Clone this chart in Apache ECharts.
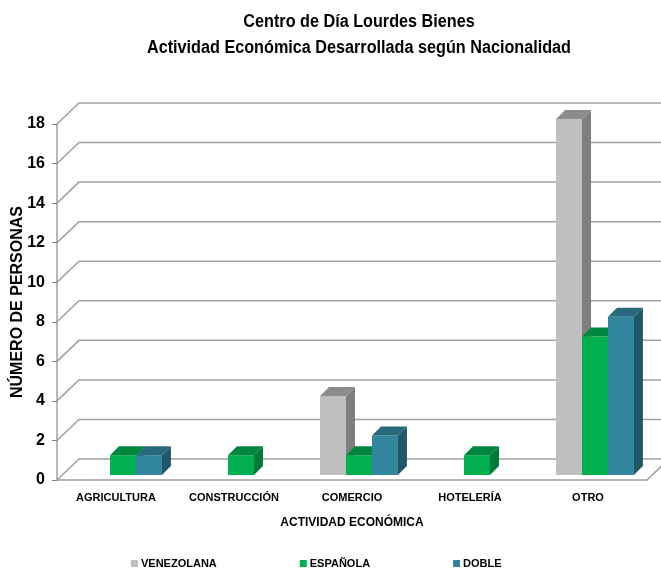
<!DOCTYPE html>
<html>
<head>
<meta charset="utf-8">
<script src="https://cdn.jsdelivr.net/npm/echarts@6/dist/echarts.min.js"></script>
<style>
  html, body { margin: 0; padding: 0; background: #fff; }
  #chart { width: 661px; height: 570px; }
</style>
</head>
<body>
<div id="chart"></div>
<script>
const categories = ['AGRICULTURA', 'CONSTRUCCIÓN', 'COMERCIO', 'HOTELERÍA', 'OTRO']
const venezolana = [0, 0, 4, 0, 18]
const espanola = [1, 1, 1, 1, 7]
const doble = [1, 0, 2, 0, 8]
const yTicks = [0, 2, 4, 6, 8, 10, 12, 14, 16, 18]

const FONT = "'Liberation Sans', Arial, sans-serif"
const wallDx = 22, wallDy = -21
const barDx = 7, barDy = -5, depth = 9

const palette = [
  {name: 'VENEZOLANA', data: venezolana, front: '#bfbfbf', top: '#8c8c8c', side: '#7f7f7f'},
  {name: 'ESPAÑOLA', data: espanola, front: '#00b050', top: '#00873e', side: '#007a38'},
  {name: 'DOBLE', data: doble, front: '#31859c', top: '#276a7c', side: '#215868'}
]

const chart = echarts.init(document.getElementById('chart'))

function barRenderer(idx) {
  return function (params, api) {
    const cat = api.value(0), val = api.value(1)
    if (!val) return null
    const base = api.coord([cat, 0])
    const top = api.coord([cat, val])
    const bw = api.size([1, 0])[0] * 0.22
    const x = base[0] - 1.5 * bw + idx * bw + barDx
    const yb = base[1] + barDy
    const yt = top[1] + barDy
    const c = palette[idx]
    return {
      type: 'group',
      children: [
        {type: 'rect', shape: {x: x, y: yt, width: bw, height: yb - yt}, style: {fill: c.front}},
        {type: 'polygon', shape: {points: [[x, yt], [x + depth, yt - depth], [x + bw + depth, yt - depth], [x + bw, yt]]}, style: {fill: c.top}},
        {type: 'polygon', shape: {points: [[x + bw, yt], [x + bw + depth, yt - depth], [x + bw + depth, yb - depth], [x + bw, yb]]}, style: {fill: c.side}}
      ]
    }
  }
}

function wallRenderer(params, api) {
  const v = api.value(1)
  const p = api.coord([0, v])
  const cs = params.coordSys
  const x0 = cs.x, x1 = cs.x + cs.width, y = p[1]
  const children = [{
    type: 'polyline',
    shape: {points: [[x0, y], [x0 + wallDx, y + wallDy], [x1 + wallDx, y + wallDy]]},
    style: {stroke: '#a0a0a0', lineWidth: 1.5, fill: null}
  }]
  if (v === 0) {
    children.push({
      type: 'line',
      shape: {x1: x1, y1: y, x2: x1 + wallDx, y2: y + wallDy},
      style: {stroke: '#a0a0a0', lineWidth: 1.5}
    })
  }
  return {type: 'group', children: children}
}

const series = [{
  name: 'wall',
  type: 'custom',
  renderItem: wallRenderer,
  clip: false,
  silent: true,
  z: 1,
  data: yTicks.map(v => [0, v])
}]
palette.forEach((p, i) => {
  series.push({
    name: p.name,
    type: 'custom',
    renderItem: barRenderer(i),
    clip: false,
    z: 2,
    itemStyle: {color: p.front},
    data: p.data.map((v, j) => [j, v])
  })
})

const option = {
  animation: false,
  graphic: [{
    type: 'text',
    x: 359,
    y: 9,
    scaleX: 0.9,
    style: {
      text: 'Centro de Día Lourdes Bienes\nActividad Económica Desarrollada según Nacionalidad',
      align: 'center',
      verticalAlign: 'top',
      font: 'bold 18px ' + FONT,
      lineHeight: 26,
      fill: '#000'
    }
  }],
  legend: {
    data: palette.map(p => p.name),
    left: 126,
    top: 553,
    icon: 'rect',
    itemWidth: 7,
    itemHeight: 7,
    itemGap: 83,
    textStyle: {fontFamily: FONT, fontWeight: 'bold', fontSize: 11, color: '#000', padding: [0, 0, 0, -2]}
  },
  grid: {left: 57, right: 14, top: 124, bottom: 90, containLabel: false, outerBoundsMode: 'none'},
  xAxis: {
    type: 'category',
    data: categories,
    name: 'ACTIVIDAD ECONÓMICA',
    nameLocation: 'middle',
    nameGap: 37,
    nameMoveOverlap: false,
    nameTextStyle: {fontFamily: FONT, fontWeight: 'bold', fontSize: 12, color: '#000'},
    axisLine: {lineStyle: {color: '#a0a0a0', width: 1.5}},
    axisTick: {length: 6, lineStyle: {color: '#808080'}},
    axisLabel: {interval: 0, fontFamily: FONT, fontWeight: 'bold', fontSize: 11, color: '#000', margin: 12}
  },
  yAxis: {
    type: 'value',
    min: 0,
    max: 18,
    interval: 2,
    name: 'NÚMERO DE PERSONAS',
    nameLocation: 'middle',
    nameGap: 31,
    nameMoveOverlap: false,
    nameTextStyle: {fontFamily: FONT, fontWeight: 'bold', fontSize: 16, color: '#000'},
    splitLine: {show: false},
    axisLine: {show: true, lineStyle: {color: '#a0a0a0', width: 1.5}},
    axisTick: {show: true, length: 5, lineStyle: {color: '#808080'}},
    axisLabel: {fontFamily: FONT, fontWeight: 'bold', fontSize: 16, color: '#000', margin: 12}
  },
  series: series
}

chart.setOption(option)
</script>
</body>
</html>
